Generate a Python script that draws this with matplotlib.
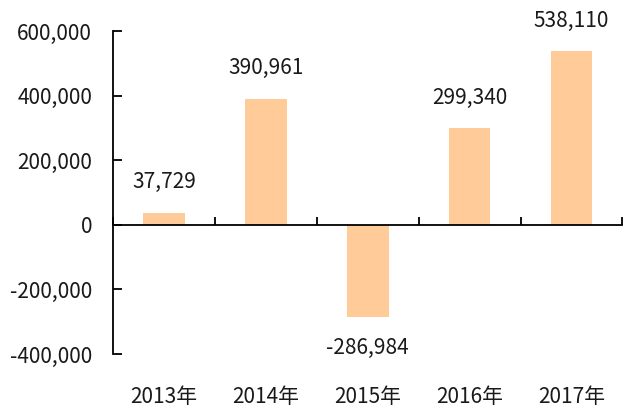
import numpy as np
import matplotlib.pyplot as plt
from matplotlib.ticker import FuncFormatter

plt.rcParams['font.family'] = ['Noto Sans CJK SC', 'DejaVu Sans']

years = ['2013年', '2014年', '2015年', '2016年', '2017年']
values = [37729, 390961, -286984, 299340, 538110]
yticks = [-400000, -200000, 0, 200000, 400000, 600000]

fig = plt.figure(figsize=(6.23, 4.09), dpi=100)
ax = fig.add_axes([0.1814, 0.1345, 0.8176, 0.7895])

x = np.arange(len(years))
ax.bar(x, values, width=0.41, color='#FFCC99', zorder=2)

# data labels
for xi, v in zip(x, values):
    off = 22 if v >= 0 else -22
    ax.annotate(f'{v:,}', (xi, v), xytext=(0, off), textcoords='offset points',
                ha='center', va='center', fontsize=15, color='#1a1a1a')

ax.set_xlim(-0.5, len(years) - 0.5)
ax.set_ylim(-400000, 600000)
ax.set_yticks(yticks)
ax.yaxis.set_major_formatter(FuncFormatter(lambda v, p: f'{int(v):,}'))
ax.tick_params(axis='y', direction='in', length=6.5, width=1.3,
               labelsize=15, labelcolor='#1a1a1a', pad=15)

# x axis sits on zero, ticks at category boundaries
ax.spines['bottom'].set_position(('data', 0))
ax.set_xticks(np.arange(len(years) + 1) - 0.5)
ax.set_xticklabels([])
ax.tick_params(axis='x', direction='in', length=6, width=1.3)
for xi, name in zip(x, years):
    ax.text(xi, -0.133, name, transform=ax.get_xaxis_transform(),
            ha='center', va='center', fontsize=15, color='#1a1a1a')

ax.spines['top'].set_visible(False)
ax.spines['right'].set_visible(False)
ax.spines['left'].set_linewidth(1.3)
ax.spines['bottom'].set_linewidth(1.3)

fig.savefig('out.png', dpi=100)
